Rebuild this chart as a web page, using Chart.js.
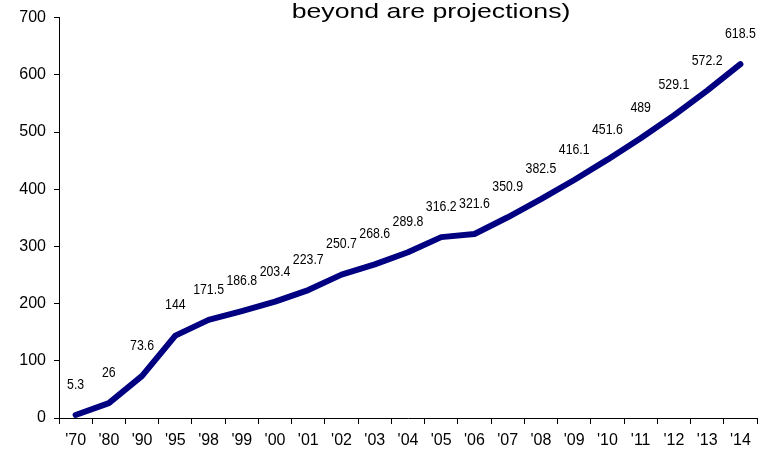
<!DOCTYPE html>
<html>
<head>
<meta charset="utf-8">
<script src="https://cdn.jsdelivr.net/npm/chart.js@4/dist/chart.umd.min.js"></script>
<style>
  html, body { margin: 0; padding: 0; background: #fff; }
  #wrap { width: 772px; height: 460px; position: relative; }
</style>
</head>
<body>
<div id="wrap"><canvas id="c"></canvas></div>
<script>
// Years on the horizontal axis
const years = ["'70", "'80", "'90", "'95", "'98", "'99", "'00", "'01", "'02", "'03", "'04",
               "'05", "'06", "'07", "'08", "'09", "'10", "'11", "'12", "'13", "'14"];
// Value for each year (2008 onward are projections)
const totals = [5.3, 26, 73.6, 144, 171.5, 186.8, 203.4, 223.7, 250.7, 268.6, 289.8,
                316.2, 321.6, 350.9, 382.5, 416.1, 451.6, 489, 529.1, 572.2, 618.5];
// Vertical axis ticks
const yTicks = [0, 100, 200, 300, 400, 500, 600, 700];
const titleLine = "beyond are projections)";

const FONT = "'Liberation Sans', Arial, Helvetica, sans-serif";

// Title line, drawn slightly widened
const titlePlugin = {
  id: 'titleLine',
  afterDraw(chart) {
    const ctx = chart.ctx;
    ctx.save();
    ctx.font = "21px " + FONT;
    ctx.fillStyle = '#000';
    ctx.textAlign = 'center';
    ctx.textBaseline = 'alphabetic';
    ctx.translate(431, 18);
    ctx.scale(1.27, 1);
    ctx.fillText(titleLine, 0, 0);
    ctx.restore();
  }
};

// Value labels above each point, in a slightly condensed face
const valueLabels = {
  id: 'valueLabels',
  afterDatasetsDraw(chart) {
    const ctx = chart.ctx;
    const meta = chart.getDatasetMeta(0);
    ctx.save();
    ctx.font = "14px " + FONT;
    ctx.fillStyle = '#000';
    ctx.textAlign = 'center';
    ctx.textBaseline = 'middle';
    meta.data.forEach((pt, i) => {
      ctx.save();
      ctx.translate(pt.x, pt.y - 30);
      ctx.scale(0.88, 1);
      ctx.fillText(String(totals[i]), 0, 0);
      ctx.restore();
    });
    ctx.restore();
  }
};

new Chart(document.getElementById('c'), {
  type: 'line',
  data: {
    labels: years,
    datasets: [{
      data: totals,
      borderColor: '#000080',
      borderWidth: 6,
      borderCapStyle: 'round',
      borderJoinStyle: 'round',
      pointRadius: 0,
      pointHoverRadius: 0,
      tension: 0,
      fill: false
    }]
  },
  options: {
    responsive: true,
    maintainAspectRatio: false,
    animation: false,
    layout: { padding: { top: 15, right: 15, left: 0, bottom: 0 } },
    plugins: {
      legend: { display: false },
      tooltip: { enabled: false },
      title: { display: false }
    },
    scales: {
      x: {
        offset: true,
        grid: {
          display: true,
          offset: true,
          drawOnChartArea: false,
          drawTicks: true,
          tickLength: 6,
          color: '#000',
          lineWidth: 1
        },
        border: { display: true, color: '#000', width: 1 },
        ticks: {
          color: '#000',
          font: { family: FONT, size: 16 },
          padding: 7,
          maxRotation: 0,
          autoSkip: false
        },
        afterFit(scale) { scale.height = 42; }
      },
      y: {
        min: 0,
        max: 700,
        afterBuildTicks(scale) { scale.ticks = yTicks.map(v => ({ value: v })); },
        grid: {
          display: true,
          drawOnChartArea: false,
          drawTicks: true,
          tickLength: 5,
          color: '#000',
          lineWidth: 1
        },
        border: { display: true, color: '#000', width: 1 },
        ticks: {
          color: '#000',
          font: { family: FONT, size: 16 },
          padding: 8
        },
        afterFit(scale) { scale.width = 59; }
      }
    }
  },
  plugins: [titlePlugin, valueLabels]
});
</script>
</body>
</html>
